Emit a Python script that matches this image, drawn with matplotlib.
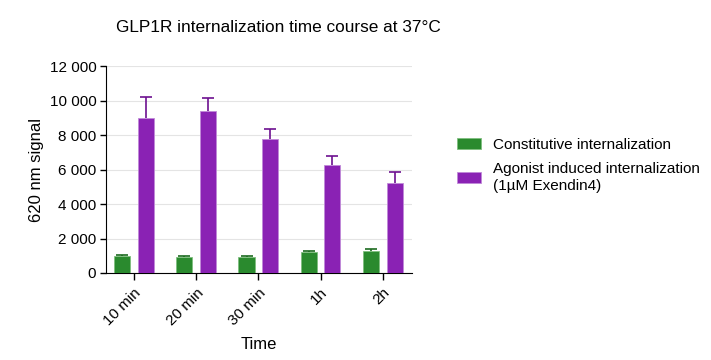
import numpy as np
import matplotlib.pyplot as plt
from matplotlib.ticker import FuncFormatter

# datos
tiempos = ["10 min", "20 min", "30 min", "1h", "2h"]
constitutiva = [980, 900, 940, 1210, 1290]
constitutiva_err = [60, 60, 40, 60, 100]
agonista = [8960, 9420, 7745, 6280, 5200]
agonista_err = [1250, 740, 580, 480, 640]

verde = "#2a8a2e"
morado = "#8a22b4"

plt.rcParams['font.family'] = ['Liberation Sans', 'DejaVu Sans']

fig = plt.figure(figsize=(7.11, 3.6), dpi=100)
ax = fig.add_axes([106/711, 87/360, 306/711, 207/360])

x = np.arange(len(tiempos))
ancho = 0.26
desp = 0.19

ax.bar(x - desp, constitutiva, ancho, color=verde, edgecolor="#7fbf7f", lw=0.6,
       label="Constitutive internalization", zorder=3)
ax.bar(x + desp, agonista, ancho, color=morado, edgecolor="#c08ad8", lw=0.6,
       label="Agonist induced internalization\n(1µM Exendin4)", zorder=3)

# barras de error solo hacia arriba (línea + tapa superior)
for serie, err, col, pos in [(constitutiva, constitutiva_err, "#1d6b20", x - desp),
                             (agonista, agonista_err, "#6d1090", x + desp)]:
    tope = np.array(serie) + np.array(err)
    ax.vlines(pos, serie, tope, color=col, lw=1.2, zorder=4)
    ax.plot(pos, tope, ls="none", marker="_", ms=8, mew=1.2, color=col, zorder=4)

ax.set_xlim(-0.45, 4.47)
ax.set_ylim(0, 12000)
ax.set_yticks(np.arange(0, 12001, 2000))
ax.yaxis.set_major_formatter(FuncFormatter(lambda v, p: f"{int(v):,}".replace(",", " ")))
ax.set_xticks(x)
ax.set_xticklabels(tiempos, rotation=45, ha="right", rotation_mode="anchor", fontsize=11)
ax.tick_params(axis="y", labelsize=11, length=4, width=1, pad=3)
ax.tick_params(axis="x", length=5, width=1, pad=4)
ax.grid(axis="y", color="#e4e4e4", lw=0.8, zorder=0)
ax.spines["top"].set_visible(False)
ax.spines["right"].set_visible(False)

ax.set_ylabel("620 nm signal", fontsize=12, labelpad=4)
ax.set_xlabel("Time", fontsize=12, labelpad=7)
fig.text(278/711, 1 - 28/360, "GLP1R internalization time course at 37°C",
         ha="center", va="center", fontsize=12.4)

ax.legend(loc="upper left", bbox_to_anchor=(443/711, 1 - 124/360),
          bbox_transform=fig.transFigure, frameon=False, fontsize=11,
          handlelength=1.6, handleheight=0.7, handletextpad=0.8, labelspacing=0.7)

plt.savefig("out.png", dpi=100)
